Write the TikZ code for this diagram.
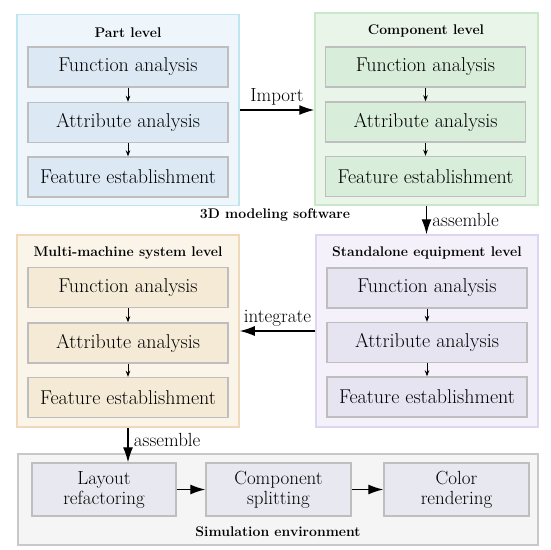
\documentclass[tikz,border=0pt]{standalone}
\usetikzlibrary{arrows.meta,positioning,calc}
\definecolor{partfill}{HTML}{EEF6FB}
\definecolor{partline}{HTML}{BFE6EE}
\definecolor{partstep}{HTML}{DCE9F4}
\definecolor{compfill}{HTML}{EAF5EA}
\definecolor{compline}{HTML}{C8E8C8}
\definecolor{compstep}{HTML}{D8EDDA}
\definecolor{multfill}{HTML}{FBF4E8}
\definecolor{multline}{HTML}{F0D8BA}
\definecolor{multstep}{HTML}{F4EAD6}
\definecolor{standfill}{HTML}{F4F1FA}
\definecolor{standline}{HTML}{DDD6F0}
\definecolor{standstep}{HTML}{E7E4F2}
\definecolor{simfill}{HTML}{F5F5F5}
\definecolor{simline}{HTML}{C8C8C8}
\definecolor{simstep}{HTML}{E8E8F0}
\definecolor{stepline}{HTML}{BEBEBE}

\begin{document}
\begin{tikzpicture}[
  x=1pt, y=-1pt,
  level/.style={draw, line width=1.5pt, minimum width=222pt, minimum height=191pt, inner sep=0pt},
  stepbox/.style={draw=stepline, line width=1.4pt, minimum width=200pt, minimum height=40pt, inner sep=0pt, font=\fontsize{20}{22}\selectfont},
  simbox/.style={stepbox, minimum width=145pt, minimum height=53pt, align=center, font=\fontsize{19}{20}\selectfont, fill=simstep},
  ttl/.style={font=\fontsize{14}{16}\selectfont\bfseries},
  lbl/.style={font=\fontsize{19}{21}\selectfont},
  small/.style={-{Stealth[length=6pt,width=4.5pt]}, line width=0.8pt},
  big/.style={-{Latex[length=15pt,width=10pt]}, line width=1.3pt},
]
\useasboundingbox (0,0) rectangle (550,550);

\node[level, draw=partline, fill=partfill] (part) at (128, 110) {};
\node[level, draw=compline, fill=compfill, minimum width=223pt, minimum height=192pt] (comp) at (426.5, 109) {};
\node[level, draw=multline, fill=multfill, minimum height=192pt] (multi) at (128, 331) {};
\node[level, draw=standline, fill=standfill, minimum height=192pt] (stand) at (427, 331) {};
\node[level, draw=simline, fill=simfill, minimum width=520pt, minimum height=91pt] (sim) at (278, 499.5) {};

\node[ttl] (parttitle) at (128, 33) {Part level};
\node[stepbox, fill=partstep] (pfun) at (128, 67) {Function analysis};
\node[stepbox, fill=partstep] (pattr) at (128, 122.5) {Attribute analysis};
\node[stepbox, fill=partstep] (pfeat) at (128, 177) {Feature establishment};

\node[ttl] (comptitle) at (426, 31) {Component level};
\node[stepbox, fill=compstep] (cfun) at (425.5, 67) {Function analysis};
\node[stepbox, fill=compstep] (cattr) at (425.5, 122) {Attribute analysis};
\node[stepbox, fill=compstep] (cfeat) at (425.5, 176.5) {Feature establishment};

\node[ttl] (multititle) at (128, 253) {Multi-machine system level};
\node[stepbox, fill=multstep] (mfun) at (128, 287.5) {Function analysis};
\node[stepbox, fill=multstep] (mattr) at (128, 343) {Attribute analysis};
\node[stepbox, fill=multstep] (mfeat) at (128, 397.5) {Feature establishment};

\node[ttl] (standtitle) at (427, 253) {Standalone equipment level};
\node[stepbox, fill=standstep] (sfun) at (427, 288) {Function analysis};
\node[stepbox, fill=standstep] (sattr) at (427, 342.5) {Attribute analysis};
\node[stepbox, fill=standstep] (sfeat) at (427, 397) {Feature establishment};

\node[ttl] (software) at (275, 215) {3D modeling software};

\node[simbox, minimum width=144pt] (layout) at (104, 489.5) {Layout\\refactoring};
\node[simbox] (split) at (278.5, 489.5) {Component\\splitting};
\node[simbox] (render) at (456.5, 489.5) {Color\\rendering};
\node[ttl] (simtitle) at (278, 532) {Simulation environment};

\draw[small] (pfun) -- (pattr);
\draw[small] (pattr) -- (pfeat);
\draw[small] (cfun) -- (cattr);
\draw[small] (cattr) -- (cfeat);
\draw[small] (mfun) -- (mattr);
\draw[small] (mattr) -- (mfeat);
\draw[small] (sfun) -- (sattr);
\draw[small] (sattr) -- (sfeat);

\draw[big] (part.east) -- node[lbl, above=1pt] {Import} (part.east -| comp.west);
\draw[big] (comp.south) -- node[lbl, right=2pt] {assemble} (comp.south |- stand.north);
\draw[big] (stand.west) -- node[lbl, above=1pt] {integrate} (multi.east);
\draw[big] (multi.south) -- node[lbl, right=2pt, pos=0.35] {assemble} (multi.south |- layout.north);
\draw[big] (layout) -- (split);
\draw[big] (split) -- (render);

\end{tikzpicture}
\end{document}
